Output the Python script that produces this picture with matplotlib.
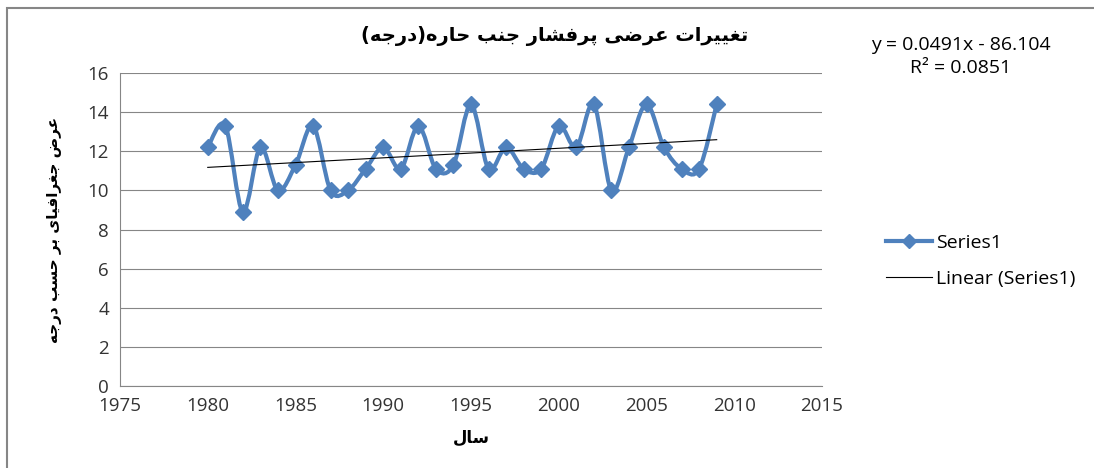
import numpy as np
import matplotlib.pyplot as plt
from matplotlib.path import Path
from matplotlib.patches import PathPatch, Rectangle
from matplotlib.lines import Line2D

years = list(range(1980, 2010))
values = [12.2, 13.3, 8.9, 12.2, 10.0, 11.3, 13.3, 10.0, 10.0, 11.1,
          12.2, 11.1, 13.3, 11.1, 11.3, 14.4, 11.1, 12.2, 11.1, 11.1,
          13.3, 12.2, 14.4, 10.0, 12.2, 14.4, 12.2, 11.1, 11.1, 14.4]

title_txt = 'تغییرات عرضی پرفشار جنب حاره(درجه)'
ylabel_txt = 'عرض جغرافیای بر حسب درجه'
xlabel_txt = 'سال'
eq_txt = 'y = 0.0491x - 86.104'
r2_txt = 'R² = 0.0851'

# arabic presentation forms: isolated, final, initial, medial
forms = {
  'ا': (0xFE8D, 0xFE8E, None, None),
  'د': (0xFEA9, 0xFEAA, None, None),
  'ر': (0xFEAD, 0xFEAE, None, None),
  'ب': (0xFE8F, 0xFE90, 0xFE91, 0xFE92),
  'پ': (0xFB56, 0xFB57, 0xFB58, 0xFB59),
  'ت': (0xFE95, 0xFE96, 0xFE97, 0xFE98),
  'ج': (0xFE9D, 0xFE9E, 0xFE9F, 0xFEA0),
  'ح': (0xFEA1, 0xFEA2, 0xFEA3, 0xFEA4),
  'س': (0xFEB1, 0xFEB2, 0xFEB3, 0xFEB4),
  'ش': (0xFEB5, 0xFEB6, 0xFEB7, 0xFEB8),
  'ض': (0xFEBD, 0xFEBE, 0xFEBF, 0xFEC0),
  'ع': (0xFEC9, 0xFECA, 0xFECB, 0xFECC),
  'غ': (0xFECD, 0xFECE, 0xFECF, 0xFED0),
  'ف': (0xFED1, 0xFED2, 0xFED3, 0xFED4),
  'ل': (0xFEDD, 0xFEDE, 0xFEDF, 0xFEE0),
  'ن': (0xFEE5, 0xFEE6, 0xFEE7, 0xFEE8),
  'ه': (0xFEE9, 0xFEEA, 0xFEEB, 0xFEEC),
  'ی': (0xFEEF, 0xFEF0, 0xFEF3, 0xFEF4),
}

def shape(s):
  out = []
  for i, c in enumerate(s):
    if c not in forms:
      out.append(c)
      continue
    prev = s[i-1] if i > 0 else ''
    nxt = s[i+1] if i+1 < len(s) else ''
    jp = prev in forms and forms[prev][2] is not None
    jn = forms[c][2] is not None and nxt in forms
    iso, fin, ini, med = forms[c]
    if jp and jn:
      out.append(chr(med))
    elif jp:
      out.append(chr(fin))
    elif jn:
      out.append(chr(ini))
    else:
      out.append(chr(iso))
  vis = ''.join(reversed(out))
  return vis.replace('(', '\0').replace(')', '(').replace('\0', ')')

plt.rcParams['font.family'] = ['Open Sans', 'DejaVu Sans']
blue = '#4F81BD'
grey = '#868686'

fig = plt.figure(figsize=(10.94, 4.68), dpi=100)
ax = fig.add_axes([120/1094, 82/468, 702/1094, 313/468])

# smooth curve like excel (bezier through points)
x = np.array(years, dtype=float)
y = np.array(values, dtype=float)
P = np.column_stack([x, y])
verts = [P[0]]
codes = [Path.MOVETO]
n = len(P)
for i in range(n-1):
  p0 = P[i-1] if i > 0 else P[i]
  p3 = P[i+2] if i+2 < n else P[i+1]
  c1 = P[i] + (P[i+1] - p0) / 6
  c2 = P[i+1] - (p3 - P[i]) / 6
  verts += [c1, c2, P[i+1]]
  codes += [Path.CURVE4]*3
ax.add_patch(PathPatch(Path(verts, codes), fill=False, edgecolor=blue, lw=3, zorder=3))
ax.plot(x, y, linestyle='none', marker='D', ms=8.5, color=blue, zorder=4)

k, b = np.polyfit(x, y, 1)
ax.plot([x[0], x[-1]], [k*x[0]+b, k*x[-1]+b], color='black', lw=0.8, zorder=5)

ax.set_xlim(1975, 2015)
ax.set_ylim(0, 16)
ax.set_xticks(range(1975, 2016, 5))
ax.set_yticks(range(0, 17, 2))
ax.yaxis.grid(True, color=grey, lw=0.8)
ax.set_axisbelow(True)
ax.tick_params(length=0, labelsize=13.5, colors='#333333', pad=8)
for s in ['top', 'right']:
  ax.spines[s].set_visible(False)
for s in ['left', 'bottom']:
  ax.spines[s].set_color(grey)
  ax.spines[s].set_linewidth(0.8)

ax.set_ylabel(shape(ylabel_txt), family='DejaVu Sans', fontweight='bold', fontsize=11, labelpad=18)
ax.set_xlabel(shape(xlabel_txt), family='DejaVu Sans', fontweight='bold', fontsize=12, labelpad=10)
fig.text(555/1094, 1-36/468, shape(title_txt), family='DejaVu Sans', fontweight='bold',
         fontsize=14, ha='center', va='center')
fig.text(961/1094, 1-45/468, eq_txt, fontsize=14, ha='center', va='center')
fig.text(961/1094, 1-68/468, r2_txt, fontsize=14, ha='center', va='center')

h1 = Line2D([], [], color=blue, lw=3, marker='D', ms=7)
h2 = Line2D([], [], color='black', lw=0.8)
fig.legend([h1, h2], ['Series1', 'Linear (Series1)'], loc='center left',
           bbox_to_anchor=(868/1094, 1-261/468), frameon=False, fontsize=14,
           handlelength=2.4, labelspacing=0.9, handletextpad=0.2)

fig.add_artist(Rectangle((7/1094, -0.02), 1.1, 1-8/468+0.02, transform=fig.transFigure,
                         fill=False, edgecolor=grey, lw=1.5))

fig.savefig('out.png', dpi=100)
